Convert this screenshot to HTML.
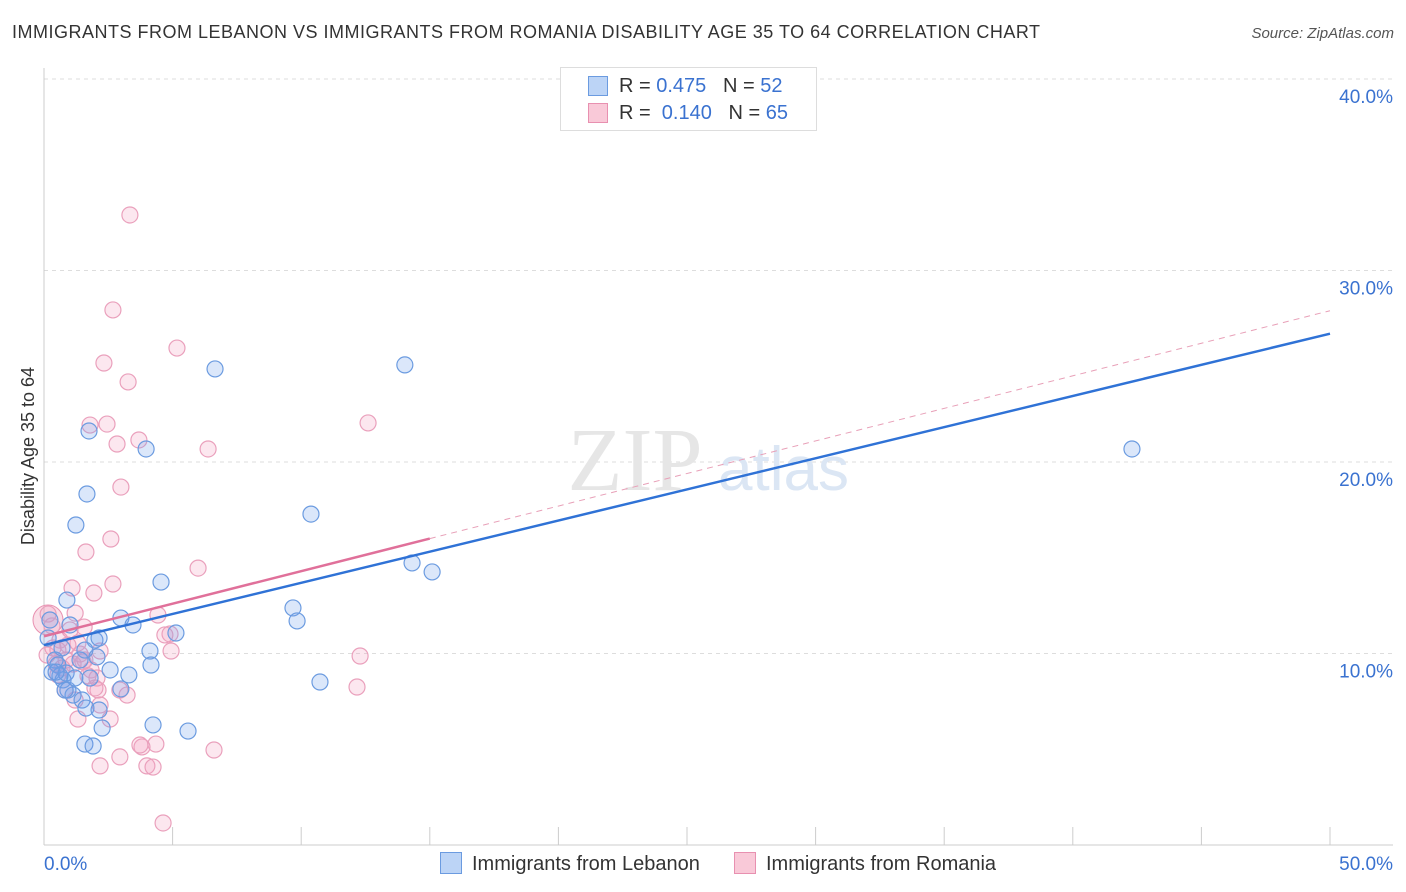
<!DOCTYPE html>
<html><head><meta charset="utf-8"><style>
body{margin:0;background:#fff;font-family:"Liberation Sans",sans-serif;}
#c{position:relative;width:1406px;height:892px;overflow:hidden;}
.t{position:absolute;white-space:nowrap;}
</style></head><body><div id="c">
<div class="t" style="left:12px;top:22px;font-size:18px;letter-spacing:0.5px;color:#333;">IMMIGRANTS FROM LEBANON VS IMMIGRANTS FROM ROMANIA DISABILITY AGE 35 TO 64 CORRELATION CHART</div>
<div class="t" style="right:12px;top:25px;font-size:15px;color:#555;font-style:italic;">Source: ZipAtlas.com</div>
<svg id="s" width="1406" height="892" style="position:absolute;left:0;top:0"></svg>
</div>
<script>
const xTickLabels=["0.0%","50.0%"];
const yTicks=[10,20,30,40];
const yTickLabels=["10.0%","20.0%","30.0%","40.0%"];
const blueX=[6.65,14.03,42.3,1.75,3.97,1.67,1.24,10.38,14.31,15.09,4.55,0.89,2.99,3.46,9.68,9.84,1.01,1.98,2.14,5.13,4.12,4.16,3.30,2.06,0.43,0.54,0.31,0.62,0.74,0.86,10.73,2.99,0.93,1.13,1.48,1.63,2.14,4.24,5.6,2.26,1.59,1.91,1.4,0.7,0.16,0.47,1.2,1.79,0.82,2.57,1.59,0.23];
const blueY=[24.86,25.07,20.68,21.62,20.68,18.33,16.71,17.28,14.73,14.26,13.73,12.79,11.85,11.49,12.38,11.70,11.49,10.70,10.81,11.07,10.13,9.40,8.88,9.82,9.66,9.40,9.03,8.83,8.62,8.98,8.51,8.15,8.09,7.83,7.57,7.15,7.05,6.27,5.95,6.11,5.27,5.17,9.66,10.29,10.81,9.03,8.72,8.72,8.09,9.14,10.18,11.75];
const pinkX=[3.34,2.68,5.17,2.33,3.27,12.6,1.79,2.45,3.69,2.84,6.38,2.99,1.63,2.6,5.99,2.68,1.09,1.94,4.43,1.21,0.16,1.56,4.9,4.7,0.62,1.32,2.18,4.94,0.35,12.29,1.4,0.86,1.52,0.47,1.13,1.83,0.7,2.06,2.1,1.98,3.23,12.17,1.32,2.57,4.35,3.81,6.61,2.95,2.18,4.0,4.24,4.63,0.31,1.01,0.54,1.71,0.82,2.95,0.12,0.54,0.93,1.59,1.21,3.73,2.18];
const pinkY=[32.9,27.94,25.95,25.17,24.18,22.04,21.93,21.98,21.15,20.94,20.68,18.69,15.3,15.98,14.46,13.63,13.42,13.16,12.01,12.11,12.06,11.38,11.02,10.97,10.7,10.55,10.13,10.13,10.29,9.87,9.97,9.66,9.56,9.45,9.45,9.14,9.24,8.72,8.09,8.2,7.83,8.25,6.58,6.58,5.27,5.12,4.96,4.6,4.13,4.13,4.07,1.15,11.44,11.23,8.88,8.83,8.09,8.09,9.92,10.18,10.44,9.66,7.57,5.22,7.31];
const blueLine=[10.44,26.7];
const pinkLine=[10.9,27.9];
const sx=v=>44+v*25.72, sy=v=>845-v*19.15;
const s=document.getElementById('s');const NS='http://www.w3.org/2000/svg';
function mk(t,a,p){const e=document.createElementNS(NS,t);for(const k in a)e.setAttribute(k,a[k]);(p||s).appendChild(e);return e;}
let e;
yTicks.forEach((v,i)=>{
 e=mk('line',{x1:44,x2:1393,y1:sy(v),y2:sy(v),stroke:'#ddd','stroke-dasharray':'4,4'});
 
 
 e=mk('text',{x:1393,y:sy(v)+24,'text-anchor':'end','font-size':19,fill:'#3a72d0','font-family':'Liberation Sans'});e.textContent=yTickLabels[i];
 
 
});
e=mk('line',{x1:44,x2:44,y1:68,y2:845,stroke:'#ccc'});


e=mk('line',{x1:44,x2:1393,y1:845,y2:845,stroke:'#ccc'});


for(let i=1;i<=10;i++){e=mk('line',{x1:sx(i*5),x2:sx(i*5),y1:827,y2:845,stroke:'#ccc'});
 
 }
[[0,'start'],[50,'end']].forEach((d,i)=>{e=mk('text',{x:i?1393:44,y:870,'text-anchor':d[1],'font-size':19,fill:'#3a72d0','font-family':'Liberation Sans'});e.textContent=xTickLabels[i];
 
 });
e=mk('text',{x:34,y:456,transform:'rotate(-90 34 456)','text-anchor':'middle','font-size':18,fill:'#333','font-family':'Liberation Sans'});e.textContent='Disability Age 35 to 64';


e=mk('text',{x:635,y:490,'text-anchor':'middle','font-size':90,fill:'#e6e6e6','font-family':'Liberation Serif'});e.textContent='ZIP';


e=mk('text',{x:718,y:490,'font-size':62,fill:'#dbe6f4','font-family':'Liberation Sans'});e.textContent='atlas';


e=mk('circle',{cx:48,cy:620,r:15,fill:'rgba(240,150,180,0.3)',stroke:'#e890b0'});


pinkX.forEach((x,i)=>{e=mk('circle',{cx:sx(x),cy:sy(pinkY[i]),r:8,fill:'rgba(245,160,190,0.25)',stroke:'#eaa0bc','stroke-width':1.2});
 
 });
blueX.forEach((x,i)=>{e=mk('circle',{cx:sx(x),cy:sy(blueY[i]),r:8,fill:'rgba(110,160,235,0.25)',stroke:'#6b9be0','stroke-width':1.2});
 
 });
const py=x=>pinkLine[0]+(pinkLine[1]-pinkLine[0])*x/50;
e=mk('line',{x1:sx(15),y1:sy(py(15)),x2:sx(50),y2:sy(py(50)),stroke:'#e8a0b8','stroke-dasharray':'6,5'});


e=mk('line',{x1:sx(0),y1:sy(py(0)),x2:sx(15),y2:sy(py(15)),stroke:'#e0709a','stroke-width':2.5});


e=mk('line',{x1:sx(0),y1:sy(blueLine[0]),x2:sx(50),y2:sy(blueLine[1]),stroke:'#2f72d6','stroke-width':2.5});


</script>
<div class="t" style="left:560px;top:67px;width:255px;height:62px;border:1px solid #ddd;background:#fff;font-size:20px;color:#333;">
<div style="position:absolute;left:27px;top:8px;width:18px;height:18px;background:#bcd4f6;border:1px solid #6b9be0;"></div>
<div style="position:absolute;left:58px;top:7px;">R = <span style="color:#3a72d0">0.475</span>&nbsp;&nbsp;&nbsp;N = <span style="color:#3a72d0">52</span></div>
<div style="position:absolute;left:27px;top:35px;width:18px;height:18px;background:#f9c9d8;border:1px solid #e890b0;"></div>
<div style="position:absolute;left:58px;top:34px;">R = <span style="color:#3a72d0">&nbsp;0.140</span>&nbsp;&nbsp;&nbsp;N = <span style="color:#3a72d0">65</span></div>
</div>
<div class="t" style="left:440px;top:852px;font-size:20px;color:#333;"><span style="display:inline-block;width:20px;height:20px;background:#bcd4f6;border:1px solid #6b9be0;vertical-align:-4px;margin-right:10px;"></span>Immigrants from Lebanon</div>
<div class="t" style="left:734px;top:852px;font-size:20px;color:#333;"><span style="display:inline-block;width:20px;height:20px;background:#f9c9d8;border:1px solid #e890b0;vertical-align:-4px;margin-right:10px;"></span>Immigrants from Romania</div>
</body></html>
